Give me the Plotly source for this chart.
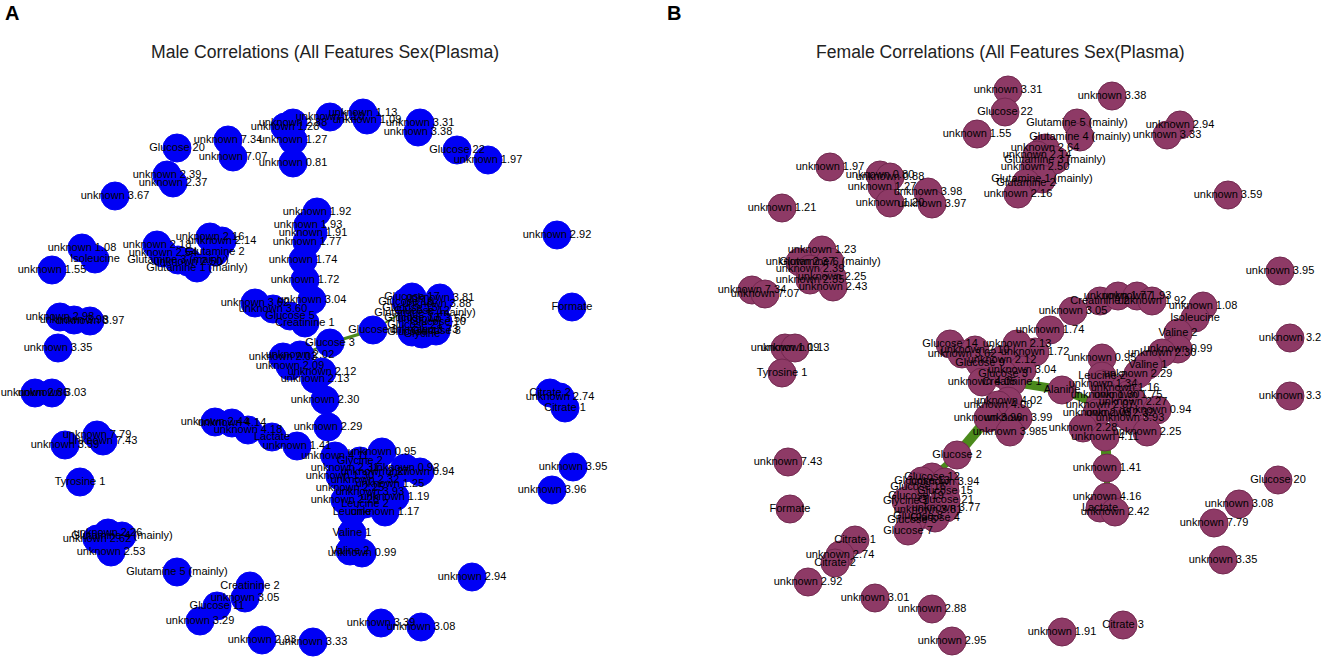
import plotly.graph_objects as go
from plotly.subplots import make_subplots

# node positions are the network layout coordinates (same scale for both panels)
male_labels = [
    'Glucose 20', 'unknown 7.34', 'unknown 7.07', 'unknown 2.39', 'unknown 2.37',
    'unknown 3.67', 'unknown 1.28', 'unknown 2.88', 'unknown 1.27', 'unknown 0.81',
    'unknown 1.10', 'unknown 1.13', 'unknown 1.09', 'unknown 3.31', 'unknown 3.38',
    'Glucose 22', 'unknown 1.97',
    'unknown 1.08', 'Isoleucine', 'unknown 1.55', 'unknown 2.18', 'unknown 2.54',
    'Glutamine 3 (mainly)', 'unknown 2.50', 'Glutamine 1 (mainly)', 'unknown 2.16',
    'unknown 2.14', 'Glutamine 2',
    'unknown 2.98', 'unknown 3.98', 'unknown 3.97', 'unknown 3.35', 'unknown 2.86',
    'unknown 3.03', 'unknown 7.79', 'unknown 7.43', 'unknown 3.59', 'Tyrosine 1',
    'unknown 2.62', 'unknown 2.26', 'Glutamine 4 (mainly)', 'unknown 2.53',
    'Glutamine 5 (mainly)', 'Creatinine 2', 'unknown 3.05', 'Glucose 11',
    'unknown 3.29', 'unknown 2.93', 'unknown 3.33', 'unknown 3.39', 'unknown 3.08',
    'unknown 2.94',
    'unknown 2.92', 'Formate', 'Citrate 2', 'unknown 2.74', 'Citrate 1',
    'unknown 3.95', 'unknown 3.96',
    'unknown 1.92', 'unknown 1.93', 'unknown 1.91', 'unknown 1.77', 'unknown 1.74',
    'unknown 1.72', 'unknown 3.04', 'unknown 3.62', 'unknown 3.60', 'Glucose 5',
    'Creatinine 1', 'Glucose 3', 'Glucose 6',
    'Glucose 17', 'unknown 3.81', 'Glucose 16', 'unknown 3.88', 'Glucose 15',
    'Glucose 12', 'Glutamine 6 (mainly)', 'Glucose 13', 'unknown 3.56',
    'Glucose 21', 'unknown 3.73', 'Glucose 8', 'Glycine', 'Glucose 10', 'Glucose 4',
    'unknown 2.03', 'unknown 2.02', 'unknown 2.09', 'unknown 2.12', 'unknown 2.13',
    'unknown 2.30', 'unknown 2.29', 'unknown 2.44', 'unknown 4.14', 'unknown 4.18',
    'Lactate', 'unknown 1.41',
    'unknown 4.11', 'Glycine 2', 'unknown 0.95', 'unknown 0.94', 'unknown 0.92',
    'unknown 2.31', 'unknown 2.27', 'unknown 1.30', 'unknown 2.32', 'unknown 1.25',
    'unknown 2.25', 'unknown 3.93', 'unknown 1.19', 'unknown 2.28', 'Leucine 2',
    'Leucine', 'unknown 1.17', 'Valine 1', 'Valine 2', 'unknown 0.99',
]
male_x = [
    177, 228, 233, 167, 173,
    115, 285, 293, 293, 293,
    330, 363, 367, 420, 418,
    457, 488,
    82, 95, 52, 157, 163,
    178, 188, 197, 210,
    222, 215,
    60, 74, 90, 58, 35,
    52, 97, 103, 65, 80,
    97, 108, 122, 111,
    177, 250, 245, 217,
    200, 262, 313, 381, 421,
    472,
    557, 572, 550, 560, 565,
    573, 552,
    317, 308, 313, 307, 303,
    305, 312, 255, 273, 290,
    305, 330, 373,
    412, 440, 406, 437, 410,
    422, 425, 412, 432,
    415, 424, 436, 422, 438, 412,
    283, 300, 290, 322, 315,
    325, 328, 215, 232, 248,
    272, 297,
    335, 360, 382, 420, 405,
    345, 375, 340, 365, 390,
    350, 370, 395, 345, 365,
    352, 385, 352, 350, 362,
]
male_y = [
    148, 140, 157, 175, 183,
    196, 127, 123, 140, 163,
    117, 113, 120, 123, 132,
    150, 160,
    248, 259, 270, 245, 253,
    260, 262, 268, 237,
    241, 252,
    317, 320, 321, 348, 393,
    393, 435, 441, 445, 482,
    539, 533, 536, 552,
    572, 586, 598, 606,
    621, 640, 642, 623, 627,
    577,
    235, 307, 393, 397, 408,
    467, 490,
    212, 225, 233, 242, 260,
    280, 300, 303, 309, 316,
    323, 343, 330,
    297, 298, 302, 304, 308,
    311, 313, 318, 319,
    325, 330, 331, 334, 322, 332,
    357, 355, 366, 372, 379,
    400, 427, 422, 423, 430,
    437, 446,
    456, 461, 452, 472, 468,
    468, 472, 476, 480, 484,
    488, 492, 497, 500, 504,
    512, 512, 533, 551, 553,
]
male_edges = [('Glucose 3', 'Glucose 6'), ('Glucose 3', 'unknown 2.02'),
              ('Glucose 6', 'Glucose 15')]
male_edge_widths = [3, 2, 2]

female_labels = [
    'unknown 3.31', 'Glucose 22', 'unknown 1.55', 'unknown 3.38', 'unknown 2.94',
    'unknown 3.33', 'unknown 3.59',
    'Glutamine 5 (mainly)', 'Glutamine 4 (mainly)', 'unknown 2.64', 'unknown 2.14',
    'Glutamine 3 (mainly)', 'unknown 2.50', 'Glutamine 1 (mainly)', 'Glutamine 2',
    'unknown 2.16',
    'unknown 1.97', 'unknown 1.21', 'unknown 0.80', 'unknown 0.88', 'unknown 1.27',
    'unknown 3.98', 'unknown 1.20', 'unknown 3.97',
    'unknown 1.23', 'unknown 2.37', 'Glutamine 6 (mainly)', 'unknown 2.39',
    'unknown 2.25', 'unknown 2.35', 'unknown 2.43', 'unknown 7.34', 'unknown 7.07',
    'unknown 1.09', 'unknown 1.13', 'Tyrosine 1', 'unknown 7.43', 'Formate',
    'Citrate 1', 'unknown 2.74', 'Citrate 2', 'unknown 2.92', 'unknown 3.01',
    'unknown 2.88', 'unknown 2.95', 'unknown 1.91', 'Citrate 3',
    'unknown 3.95', 'unknown 3.2', 'unknown 3.3', 'Glucose 20', 'unknown 3.08',
    'unknown 7.79', 'unknown 3.35',
    'unknown 3.05', 'Creatinine 2', 'unknown 1.77', 'unknown 1.93', 'unknown 1.92',
    'unknown 1.08', 'Isoleucine', 'Valine 2', 'unknown 0.99', 'unknown 2.30',
    'Valine 1', 'unknown 2.29', 'unknown 0.95', 'Leucine 2',
    'unknown 1.34', 'unknown 1.16', 'unknown 1.75', 'unknown 1.30', 'unknown 2.27',
    'unknown 2.07', 'unknown 0.94', 'unknown 2.03', 'unknown 2.32', 'unknown 3.93',
    'unknown 2.28', 'unknown 2.25 ', 'unknown 4.11', 'Alanine',
    'unknown 1.41', 'unknown 4.16', 'Lactate', 'unknown 2.42',
    'unknown 1.74', 'unknown 1.72', 'Glucose 14', 'unknown 2.13', 'unknown 3.62',
    'unknown 2.10', 'unknown 2.12', 'Glucose 9', 'unknown 3.04', 'Glucose 3',
    'unknown 4.05', 'Creatinine 1', 'unknown 4.02', 'unknown 4.00', 'unknown 3.96',
    'unknown 3.99', 'unknown 3.985',
    'Glucose 2', 'Glucose 12', 'Glucose 13', 'unknown 3.94', 'Glucose 16',
    'Glucose 15', 'Glucose 19', 'Glucose 21', 'Glycine 1', 'unknown 3.77',
    'unknown 3.81', 'Glucose 8', 'Glucose 4', 'Glucose 6', 'Glucose 7',
]
female_x = [
    1008, 1005, 977, 1112, 1180,
    1167, 1228,
    1077, 1080, 1045, 1037,
    1055, 1035, 1042, 1026,
    1018,
    830, 782, 880, 890, 882,
    928, 890, 932,
    822, 800, 830, 810,
    832, 810, 833, 752, 765,
    785, 795, 782, 788, 790,
    855, 840, 835, 808, 875,
    932, 952, 1062, 1123,
    1280, 1290, 1290, 1278, 1239,
    1214, 1223,
    1073, 1100, 1118, 1137, 1152,
    1203, 1195, 1178, 1178, 1162,
    1148, 1138, 1102, 1102,
    1103, 1125, 1128, 1105, 1133,
    1100, 1157, 1097, 1120, 1130,
    1083, 1147, 1105, 1062,
    1107, 1107, 1100, 1115,
    1050, 1035, 950, 1017, 962,
    975, 1002, 980, 1022, 1003,
    982, 1012, 1008, 998, 988,
    1018, 1010,
    957, 932, 922, 945, 918,
    945, 916, 946, 906, 946,
    928, 918, 935, 912, 908,
]
female_y = [
    90, 112, 134, 96, 125,
    135, 195,
    123, 137, 148, 155,
    160, 167, 179, 183,
    194,
    167, 208, 175, 177, 187,
    192, 203, 204,
    250, 262, 262, 269,
    277, 280, 287, 290, 294,
    348, 348, 373, 462, 509,
    540, 555, 563, 582, 598,
    609, 641, 632, 625,
    271, 338, 396, 480, 504,
    523, 560,
    311, 301, 296, 296, 301,
    306, 318, 333, 349, 353,
    365, 374, 358, 376,
    384, 388, 395, 395, 402,
    405, 410, 413, 413, 418,
    428, 432, 437, 390,
    468, 497, 508, 512,
    330, 352, 344, 344, 354,
    350, 360, 363, 370, 374,
    382, 382, 401, 405, 418,
    418, 432,
    455, 477, 481, 482, 487,
    491, 496, 500, 501, 508,
    510, 516, 518, 520, 531,
]
female_edges = [('unknown 3.96', 'Glucose 2'), ('Glucose 2', 'Glucose 12'),
                ('Creatinine 1', 'Alanine'), ('Alanine', 'unknown 2.07'),
                ('unknown 4.11', 'unknown 1.41'), ('unknown 1.41', 'unknown 4.16'),
                ('unknown 1.74', 'unknown 1.72')]
female_edge_widths = [10, 6, 9, 8, 10, 6, 4]

BLUE = '#0000F5'
MAROON = '#8E3A66'
GREEN = '#4B8A1C'
FONT = 'Liberation Sans, Arial, sans-serif'

fig = make_subplots(rows=1, cols=2, horizontal_spacing=0)


def add_network(fig, labels, xs, ys, edges, widths, color, line_color, col):
    """Draws the edges first, then the nodes with their labels on top."""
    pos = {lab: (x, y) for lab, x, y in zip(labels, xs, ys)}
    for (a, b), w in zip(edges, widths):
        fig.add_trace(go.Scatter(
            x=[pos[a][0], pos[b][0]], y=[pos[a][1], pos[b][1]],
            mode='lines', line=dict(color=GREEN, width=w),
            hoverinfo='skip', showlegend=False), row=1, col=col)
    fig.add_trace(go.Scatter(
        x=xs, y=ys, text=[lab.strip() for lab in labels],
        mode='markers+text', textposition='middle center',
        marker=dict(size=28, color=color, line=dict(color=line_color, width=1)),
        textfont=dict(family=FONT, size=11, color='#000000'),
        hoverinfo='text', showlegend=False), row=1, col=col)


add_network(fig, male_labels, male_x, male_y, male_edges, male_edge_widths,
            BLUE, BLUE, 1)
add_network(fig, female_labels, female_x, female_y, female_edges,
            female_edge_widths, MAROON, '#72284F', 2)

fig.update_xaxes(visible=False)
fig.update_yaxes(visible=False, range=[663, 0])
fig.update_xaxes(range=[0, 662.5], domain=[0, 0.5], row=1, col=1)
fig.update_xaxes(range=[662.5, 1325], domain=[0.5, 1], row=1, col=2)

for text, cx in [('Male Correlations (All Features Sex(Plasma)', 325),
                 ('Female Correlations (All Features Sex(Plasma)', 1000)]:
    fig.add_annotation(text=text, x=cx / 1325, y=1 - 52 / 663,
                       xref='paper', yref='paper', xanchor='center',
                       yanchor='middle', showarrow=False,
                       font=dict(family=FONT, size=17.6, color='#222222'))
for text, cx in [('<b>A</b>', 12), ('<b>B</b>', 674)]:
    fig.add_annotation(text=text, x=cx / 1325, y=1 - 13 / 663,
                       xref='paper', yref='paper', xanchor='center',
                       yanchor='middle', showarrow=False,
                       font=dict(family=FONT, size=20, color='black'))

fig.update_layout(width=1325, height=663, autosize=False,
                  margin=dict(l=0, r=0, t=0, b=0),
                  plot_bgcolor='white', paper_bgcolor='white')

fig.write_html('out.html', config={'displayModeBar': False},
               post_script="document.body.style.margin='0';")
